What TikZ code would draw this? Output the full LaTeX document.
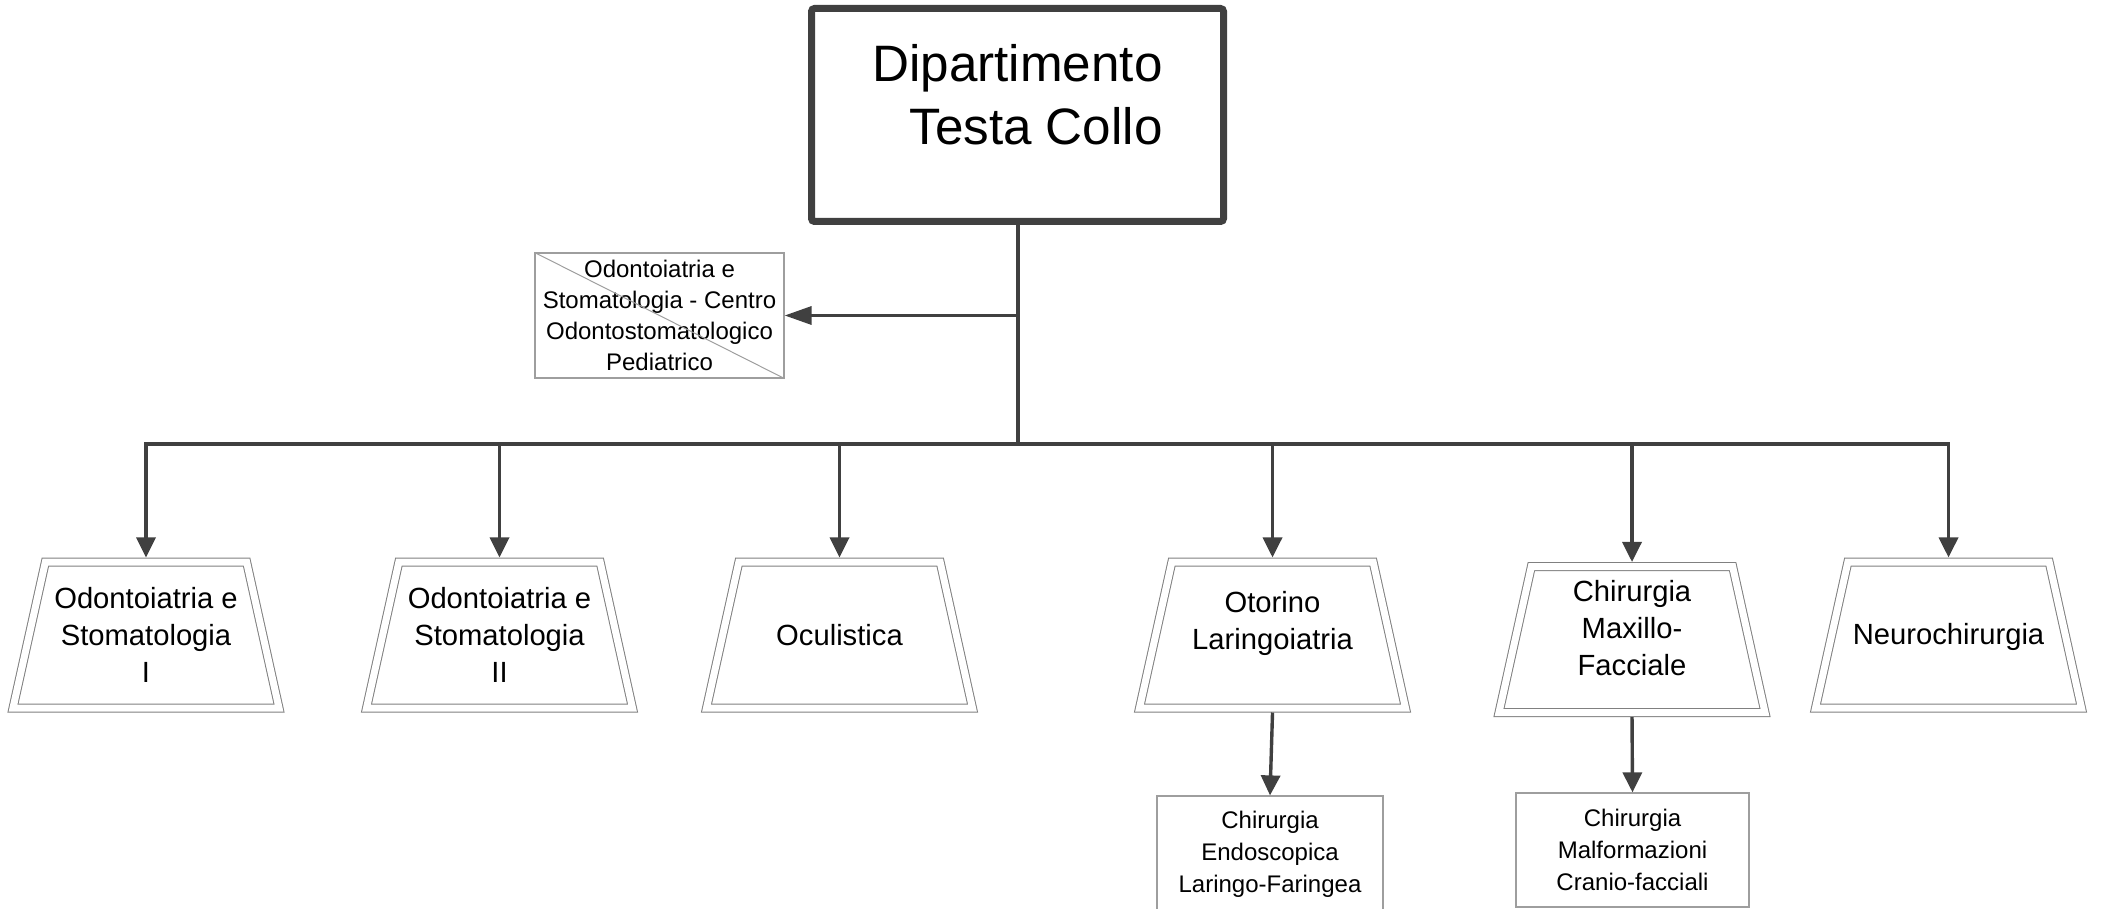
\documentclass[tikz,border=0pt]{standalone}
\usepackage{fontspec}
\setmainfont{Liberation Sans}
\usetikzlibrary{arrows.meta,shapes.geometric}
\definecolor{LineClr}{rgb}{0.25,0.25,0.25}
\definecolor{FrameClr}{rgb}{0.5,0.5,0.5}
\definecolor{BoxClr}{rgb}{0.62,0.62,0.62}

\begin{document}
\begin{tikzpicture}[x=0.5pt,y=-0.5pt,
  link/.style={color=LineClr,line width=1.7pt,-{Triangle[length=10pt,width=9.5pt]}},
  unit/.style={trapezium,trapezium angle=77.5,trapezium stretches body,draw=FrameClr,line width=0.5pt,double,double distance=3.5pt,minimum width=133pt,minimum height=73pt,inner sep=0pt,outer sep=2.25pt,align=center,font=\fontsize{14.6}{18.5}\selectfont},
  subunit/.style={rectangle,draw=BoxClr,line width=0.6pt,inner sep=0pt,align=center,font=\fontsize{12}{16}\selectfont}]
\useasboundingbox (0,0) rectangle (2109,909);

\node[draw=LineClr,line width=3.5pt,rounded corners=1.5pt,minimum width=206pt,minimum height=106.5pt,align=right,text depth=21pt,font=\fontsize{25.6}{31.5}\selectfont] (dept) at (1017.5,115) {Dipartimento\\Testa Collo};

\node[subunit,minimum width=124.5pt,minimum height=62.5pt,font=\fontsize{12}{15.5}\selectfont] (ped) at (659.5,315.5) {Odontoiatria e\\Stomatologia - Centro\\Odontostomatologico\\Pediatrico};
\draw[BoxClr,line width=0.5pt] (ped.north west) -- (ped.south east);

\node[unit,text height=60pt,text depth=13pt] (odo1) at (146,635) {Odontoiatria e\\Stomatologia\\I};
\node[unit,text height=60pt,text depth=13pt] (odo2) at (499.5,635) {Odontoiatria e\\Stomatologia\\II};
\node[unit,text height=41.5pt,text depth=31.5pt] (ocu) at (839.5,635) {Oculistica};
\node[unit,text height=43.5pt,text depth=29.5pt] (oto) at (1272.5,635) {Otorino\\Laringoiatria};
\node[unit,text height=54.25pt,text depth=18.75pt] (maxi) at (1632,639.5) {Chirurgia\\Maxillo-\\Facciale};
\node[unit,text height=41pt,text depth=32pt] (neuro) at (1948.5,635) {Neurochirurgia};

\node[subunit,minimum width=113pt,minimum height=58pt] (endo) at (1270,854) {Chirurgia\\Endoscopica\\Laringo-Faringea};
\node[subunit,minimum width=116.5pt,minimum height=57pt] (malf) at (1632.5,850) {Chirurgia\\Malformazioni\\Cranio-facciali};

\coordinate (hub) at (1017.5,444);
\draw[LineClr,line width=2pt] (dept.south) -- (hub);
\draw[link,-{Triangle[length=13.5pt,width=9pt]}] (dept.south |- ped.east) -- (ped.east);
\foreach \u in {odo1,odo2,ocu,oto,maxi,neuro}
  \draw[link] (hub) -| (\u.north);
\draw[link] (oto.south) -- (endo.north);
\draw[link] (maxi.south) -- (malf.north);

\end{tikzpicture}
\end{document}
